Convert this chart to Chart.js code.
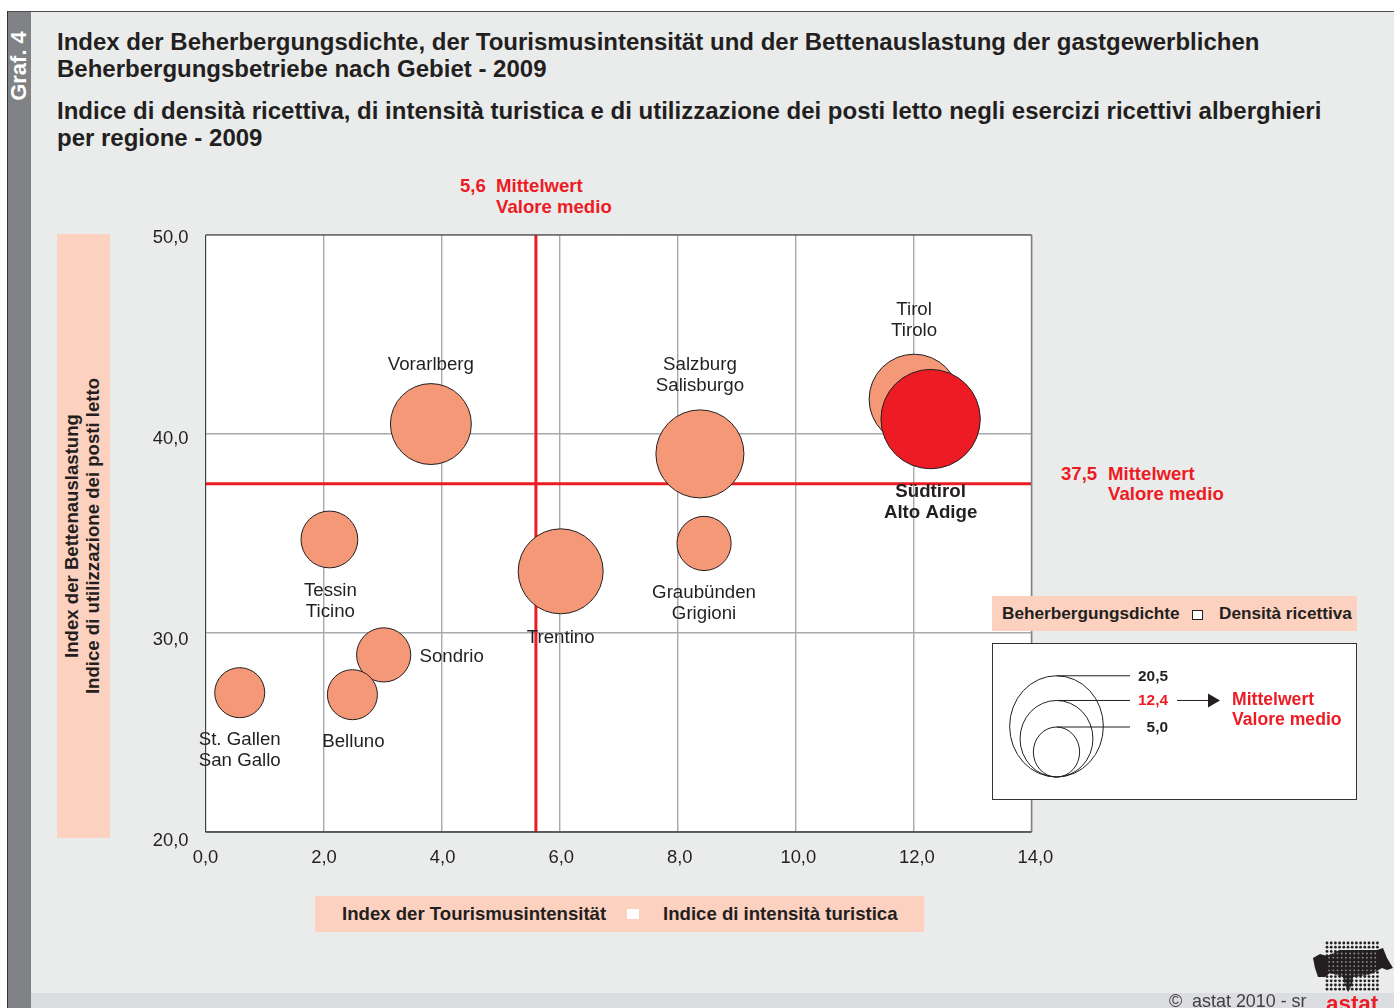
<!DOCTYPE html>
<html>
<head>
<meta charset="utf-8">
<title>Graf. 4</title>
<script src="https://cdn.jsdelivr.net/npm/chart.js@4/dist/chart.umd.js"></script>
<style>
html, body { margin: 0; padding: 0; background: #fff; }
#page { position: relative; width: 1394px; height: 1008px; overflow: hidden; font-family: "Liberation Sans", Arial, sans-serif; color: #231f20; }
#page div, #page canvas, #page svg { position: absolute; }
.t { white-space: nowrap; line-height: 1; }
.b { font-weight: bold; }
.red { color: #ed1c24; }
.title { left: 57px; font-size: 24px; font-weight: bold; }
.peach { background: #fdd1bf; }
.rot { transform: translate(-50%, -50%) rotate(-90deg); font-size: 18.6px; font-weight: bold; }
</style>
</head>
<body>
<div id="page">
  <div style="left:7px;top:11px;width:1387px;height:997px;background:#eaecec"></div>
  <div style="left:7px;top:993px;width:1387px;height:15px;background:#dcdde0"></div>
  <div style="left:7px;top:11px;width:1387px;height:1px;background:#4d4d4f"></div>
  <div style="left:7px;top:11px;width:1px;height:997px;background:#333"></div>
  <div style="left:8px;top:12px;width:23px;height:996px;background:#808285"></div>

  <div class="t b" style="left:19px;top:66px;color:#fff;font-size:22px;transform:translate(-50%,-50%) rotate(-90deg)">Graf. 4</div>

  <div class="t title" style="top:30px">Index der Beherbergungsdichte, der Tourismusintensität und der Bettenauslastung der gastgewerblichen</div>
  <div class="t title" style="top:57px">Beherbergungsbetriebe nach Gebiet - 2009</div>
  <div class="t title" style="top:99px">Indice di densità ricettiva, di intensità turistica e di utilizzazione dei posti letto negli esercizi ricettivi alberghieri</div>
  <div class="t title" style="top:126px">per regione - 2009</div>

  <div class="peach" style="left:57px;top:234px;width:53px;height:604px"></div>
  <div class="t rot" style="left:72px;top:536px">Index der Bettenauslastung</div>
  <div class="t rot" style="left:93px;top:536px">Indice di utilizzazione dei posti letto</div>

  <div class="peach" style="left:315px;top:896px;width:609px;height:36px"></div>
  <div class="t b" style="left:342px;top:905px;font-size:18.6px">Index der Tourismusintensität</div>
  <div style="left:627px;top:909px;width:12px;height:10px;background:#fff"></div>
  <div class="t b" style="left:663px;top:905px;font-size:18.6px">Indice di intensità turistica</div>

  <div class="t b red" style="left:460px;top:177px;font-size:18.6px">5,6</div>
  <div class="t b red" style="left:496px;top:177px;font-size:18.6px">Mittelwert</div>
  <div class="t b red" style="left:496px;top:198px;font-size:18.6px">Valore medio</div>
  <div class="t b red" style="left:1061px;top:465px;font-size:18.6px">37,5</div>
  <div class="t b red" style="left:1108px;top:465px;font-size:18.6px">Mittelwert</div>
  <div class="t b red" style="left:1108px;top:485px;font-size:18.6px">Valore medio</div>

  <canvas id="chart" width="1394" height="1008" style="left:0;top:0"></canvas>

  <div class="peach" style="left:992px;top:596px;width:365px;height:35px"></div>
  <div class="t b" style="left:1002px;top:605px;font-size:17.2px">Beherbergungsdichte</div>
  <div style="left:1192px;top:610px;width:9px;height:8px;background:#fff;border:1px solid #231f20"></div>
  <div class="t b" style="left:1219px;top:605px;font-size:17.2px">Densità ricettiva</div>

  <div class="t" style="left:1169px;top:993px;font-size:17.9px;color:#414042">©&nbsp; astat 2010 - sr</div>
  <canvas id="logo" width="90" height="70" style="left:1304px;top:938px"></canvas>
  <div class="t b red" style="left:1326px;top:993px;font-size:22.4px">astat</div>
</div>

<script>
// values
const regionsDe = ['St. Gallen', 'Sondrio', 'Belluno', 'Tessin', 'Vorarlberg', 'Trentino', 'Salzburg', 'Graubünden', 'Tirol', 'Südtirol'];
const regionsIt = ['San Gallo', '', '', 'Ticino', '', '', 'Salisburgo', 'Grigioni', 'Tirolo', 'Alto Adige'];
const tourismIntensity = [0.58, 3.02, 2.49, 2.1, 3.82, 6.02, 8.38, 8.45, 12.01, 12.29];
const bedOccupancy = [27.0, 28.9, 26.9, 34.7, 40.5, 33.1, 39.0, 34.5, 41.75, 40.75];
const bedDensity = [5.2, 6.1, 5.2, 6.7, 13.6, 15.0, 16.1, 6.1, 16.8, 20.5];
const meanIntensity = 5.6;
const meanOccupancy = 37.5;
const xTicks = [0, 2, 4, 6, 8, 10, 12, 14];
const yTicks = [20, 30, 40, 50];
const legendSizes = [20.5, 12.4, 5.0];

const RED = '#ed1c24';
const SALMON = '#f59877';
const GRID = '#a7a9ac';
const DARK = '#231f20';
const FONT = '"Liberation Sans", Arial, sans-serif';

const comma = v => Number(v).toFixed(1).replace('.', ',');

// bubble area goes with the density
const bubbleR = v => 10.97 * Math.sqrt(v);
const keyR = v => 10.35 * Math.sqrt(v);

const bubbles = regionsDe.map((name, i) => ({
    x: tourismIntensity[i],
    y: bedOccupancy[i],
    r: bubbleR(bedDensity[i])
}));

// label placement relative to the bubble centre: dx, dy of first line
const labelOffsets = {
    'St. Gallen': [0, 47], 'Sondrio': [68, 2], 'Belluno': [1, 47], 'Tessin': [1, 51],
    'Vorarlberg': [0, -59], 'Trentino': [0, 67], 'Salzburg': [0, -89], 'Graubünden': [0, 49],
    'Tirol': [0, -89], 'Südtirol': [0, 73]
};

const plotBack = {
    id: 'plotBack',
    beforeDraw(chart) {
        const { ctx, chartArea: a, scales } = chart;
        ctx.save();
        ctx.fillStyle = '#fff';
        ctx.fillRect(a.left, a.top, a.width, a.height);
        ctx.restore();
        // the printed tick labels drift away from their grid lines a little
        scales.y.getLabelItems().forEach((it, i) => {
            const v = scales.y.ticks[i].value;
            it.options.translation[1] = scales.y.getPixelForValue(v) + (50 - v) * 0.22 + 2.5;
        });
        scales.x.getLabelItems().forEach((it, i) => {
            const v = scales.x.ticks[i].value;
            it.options.translation[0] = scales.x.getPixelForValue(v) + v * 0.28;
        });
    },
    afterDatasetsDraw(chart) {
        const { ctx, chartArea: a } = chart;
        const side = (x1, y1, x2, y2, color, width) => {
            ctx.strokeStyle = color;
            ctx.lineWidth = width;
            ctx.beginPath();
            ctx.moveTo(x1, y1);
            ctx.lineTo(x2, y2);
            ctx.stroke();
        };
        ctx.save();
        side(a.right, a.top, a.right, a.bottom, '#808285', 1.5);
        side(a.left, a.top, a.right, a.top, '#414042', 1);
        side(a.left, a.bottom, a.right, a.bottom, '#414042', 1.3);
        side(a.left, a.top, a.left, a.bottom, '#414042', 1);
        ctx.restore();
    }
};

const regionLabels = {
    id: 'regionLabels',
    afterDatasetsDraw(chart) {
        const { ctx, scales } = chart;
        ctx.save();
        ctx.textAlign = 'center';
        ctx.textBaseline = 'middle';
        ctx.fillStyle = DARK;
        regionsDe.forEach((name, i) => {
            const [dx, dy] = labelOffsets[name];
            const px = scales.x.getPixelForValue(tourismIntensity[i]) + dx;
            const py = scales.y.getPixelForValue(bedOccupancy[i]) + dy;
            ctx.font = (name === 'Südtirol' ? 'bold ' : '') + '18.7px ' + FONT;
            ctx.fillText(name, px, py);
            if (regionsIt[i]) ctx.fillText(regionsIt[i], px, py + 21);
        });
        ctx.restore();
    }
};

// size key in the white box on the right, its circles are a bit taller than wide
const sizeKey = {
    id: 'sizeKey',
    afterDraw(chart) {
        const ctx = chart.ctx;
        const cx = 1056.5, bottom = 777;
        const stretch = [1.08, 1.05, 1.08];
        ctx.save();
        ctx.fillStyle = '#fff';
        ctx.fillRect(992.5, 643.5, 364, 156);
        ctx.strokeStyle = '#333';
        ctx.lineWidth = 1;
        ctx.strokeRect(992.5, 643.5, 364, 156);
        ctx.strokeStyle = DARK;
        ctx.font = 'bold 15.4px ' + FONT;
        ctx.textBaseline = 'middle';
        ctx.textAlign = 'right';
        legendSizes.forEach((v, i) => {
            const rx = keyR(v);
            const ry = rx * stretch[i];
            const top = bottom - 2 * ry;
            ctx.beginPath();
            ctx.ellipse(cx, bottom - ry, rx, ry, 0, 0, Math.PI * 2);
            ctx.stroke();
            ctx.beginPath();
            ctx.moveTo(cx, top);
            ctx.lineTo(1130, top);
            ctx.stroke();
            ctx.fillStyle = i === 1 ? RED : DARK;
            ctx.fillText(comma(v), 1168, top + 0.5);
        });
        const ay = bottom - 2 * keyR(legendSizes[1]) * stretch[1];
        ctx.beginPath();
        ctx.moveTo(1177, ay);
        ctx.lineTo(1210, ay);
        ctx.stroke();
        ctx.fillStyle = DARK;
        ctx.beginPath();
        ctx.moveTo(1208, ay - 7);
        ctx.lineTo(1220, ay);
        ctx.lineTo(1208, ay + 7);
        ctx.closePath();
        ctx.fill();
        ctx.fillStyle = RED;
        ctx.textAlign = 'left';
        ctx.font = 'bold 17.6px ' + FONT;
        ctx.fillText('Mittelwert', 1232, ay);
        ctx.fillText('Valore medio', 1232, ay + 19.5);
        ctx.restore();
    }
};

new Chart(document.getElementById('chart'), {
    type: 'bubble',
    data: {
        datasets: [
            {
                type: 'line',
                label: 'Mittelwert x',
                data: [{ x: meanIntensity, y: yTicks[0] }, { x: meanIntensity, y: yTicks[yTicks.length - 1] }],
                borderColor: RED,
                borderWidth: 3,
                pointRadius: 0,
                order: 2
            },
            {
                type: 'line',
                label: 'Mittelwert y',
                data: [{ x: xTicks[0], y: meanOccupancy }, { x: xTicks[xTicks.length - 1], y: meanOccupancy }],
                borderColor: RED,
                borderWidth: 3,
                pointRadius: 0,
                order: 2
            },
            {
                label: 'Beherbergungsdichte',
                data: bubbles,
                backgroundColor: regionsDe.map(n => n === 'Südtirol' ? RED : SALMON),
                borderColor: DARK,
                borderWidth: 1,
                order: 1
            }
        ]
    },
    options: {
        responsive: false,
        animation: false,
        layout: { padding: { left: 135.5, top: 235, right: 362.5, bottom: 125 } },
        plugins: { legend: { display: false }, tooltip: { enabled: false } },
        scales: {
            x: {
                type: 'linear',
                min: 0,
                max: 14,
                afterBuildTicks: s => { s.ticks = xTicks.map(value => ({ value })); },
                afterFit: s => { s.height = 51; },
                grid: { color: GRID, lineWidth: 1.4, drawTicks: false },
                border: { display: false },
                ticks: {
                    padding: 15,
                    maxRotation: 0,
                    color: DARK,
                    font: { family: FONT, size: 18.4 },
                    callback: comma
                }
            },
            y: {
                type: 'linear',
                min: 20,
                max: 50,
                afterBuildTicks: s => { s.ticks = yTicks.map(value => ({ value })); },
                afterFit: s => { s.width = 70; },
                grid: { color: GRID, lineWidth: 1.4, drawTicks: false },
                border: { display: false },
                ticks: {
                    padding: 17,
                    color: DARK,
                    font: { family: FONT, size: 18.4 },
                    callback: comma
                }
            }
        }
    },
    plugins: [plotBack, regionLabels, sizeKey]
});

// astat logo, dotted map
const lg = document.getElementById('logo').getContext('2d');
const blob = [[9,20],[16,16],[23,18],[29,15],[36,12],[73,12],[79,10],[83,20],[89,30],[83,32],[78,30],[71,34],[64,37],[49,39],[48,47],[44,54],[41,47],[39,39],[26,35],[21,39],[14,39],[11,30]];
lg.fillStyle = '#231f20';
for (let y = 5; y < 55; y += 4.2) {
    for (let x = 23; x < 75; x += 4.2) {
        lg.beginPath();
        lg.arc(x, y, 1.4, 0, Math.PI * 2);
        lg.fill();
    }
}
lg.beginPath();
blob.forEach((p, i) => i ? lg.lineTo(p[0], p[1]) : lg.moveTo(p[0], p[1]));
lg.closePath();
lg.fill();
lg.clip();
lg.fillStyle = 'rgba(234,236,236,0.55)';
for (let y = 7.1; y < 55; y += 4.2) {
    for (let x = 25.1; x < 75; x += 4.2) {
        lg.beginPath();
        lg.arc(x, y, 0.9, 0, Math.PI * 2);
        lg.fill();
    }
}
</script>
</body>
</html>
